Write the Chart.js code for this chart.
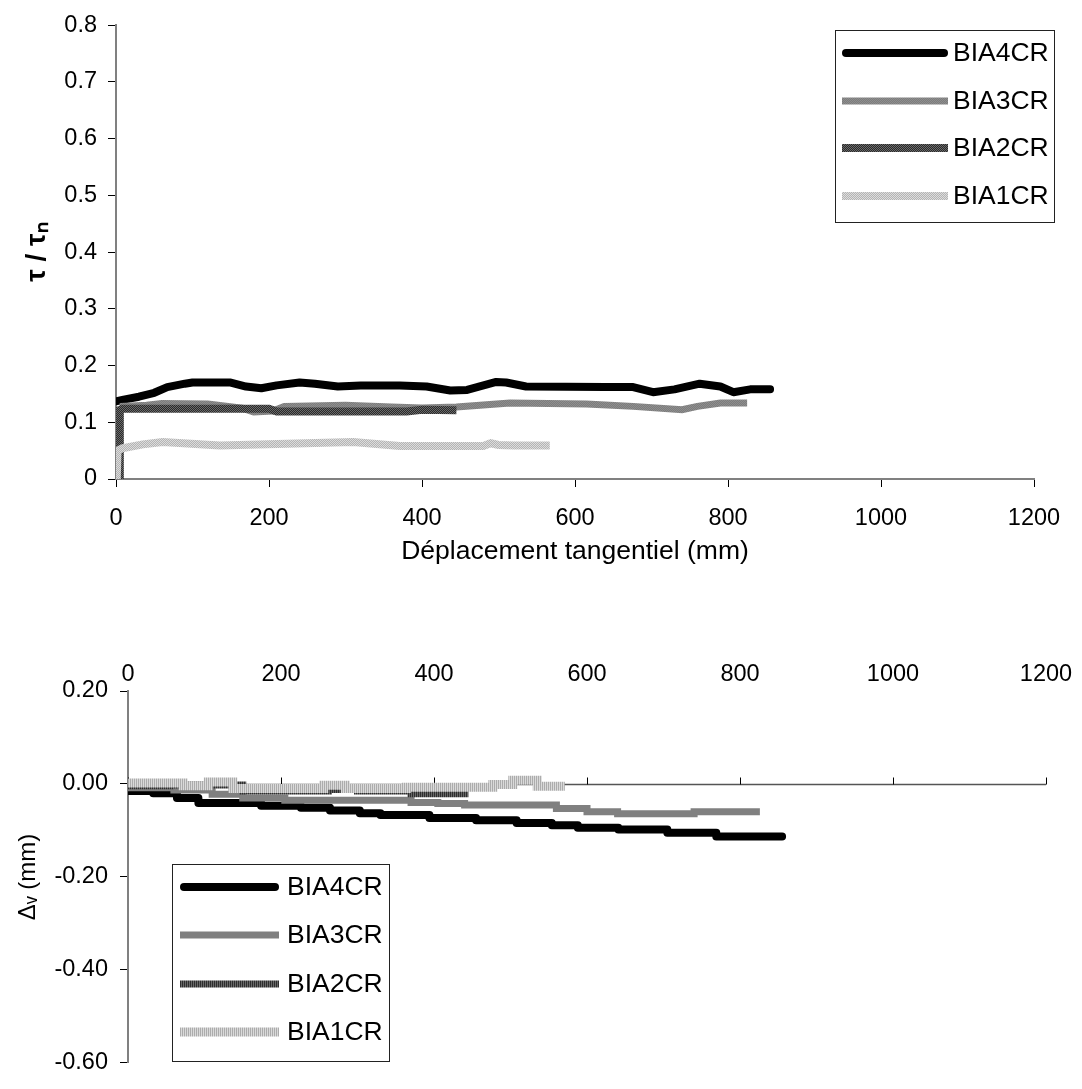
<!DOCTYPE html>
<html>
<head>
<meta charset="utf-8">
<script src="https://cdn.jsdelivr.net/npm/chart.js@4/dist/chart.umd.min.js"></script>
<style>
  html, body { margin: 0; padding: 0; background: #fff; overflow: hidden; }
  #top { position: absolute; left: 0; top: 0; }
  #bot { position: absolute; left: 0; top: 580px; }
</style>
</head>
<body>
<canvas id="top" width="1082" height="580"></canvas>
<canvas id="bot" width="1082" height="509"></canvas>
<script>
// ---------- DATA ----------
const seriesNames = ['BIA4CR', 'BIA3CR', 'BIA2CR', 'BIA1CR'];

// top chart : tau / tau_n vs tangential displacement
const topX4 = [0, 10, 30, 50, 67, 90, 100, 150, 170, 190, 210, 240, 260, 290, 320, 371, 406, 437, 459, 497, 510, 536, 640, 676, 702, 730, 763, 790, 807, 829, 855];
const topY4 = [0.137, 0.14, 0.145, 0.152, 0.162, 0.168, 0.17, 0.17, 0.163, 0.16, 0.165, 0.17, 0.168, 0.163, 0.165, 0.165, 0.163, 0.156, 0.157, 0.171, 0.17, 0.163, 0.162, 0.162, 0.153, 0.158, 0.168, 0.163, 0.153, 0.158, 0.158];
const topX3 = [5, 40, 60, 120, 165, 180, 205, 220, 300, 360, 400, 445, 515, 615, 676, 740, 760, 790, 825];
const topY3 = [0.128, 0.13, 0.133, 0.132, 0.125, 0.118, 0.12, 0.128, 0.13, 0.127, 0.125, 0.127, 0.134, 0.132, 0.128, 0.122, 0.128, 0.134, 0.134];
const topX2 = [5, 5, 8, 200, 210, 380, 400, 445];
const topY2 = [0, 0.122, 0.124, 0.124, 0.119, 0.119, 0.122, 0.121];
const topX1 = [1, 2, 8, 35, 61, 136, 310, 371, 480, 490, 500, 520, 567];
const topY1 = [0, 0.05, 0.054, 0.061, 0.065, 0.059, 0.065, 0.058, 0.058, 0.063, 0.06, 0.059, 0.059];

// bottom chart : vertical displacement (step levels : start x, level)
const botX4 = [0, 33, 64, 92, 174, 226, 264, 303, 330, 394, 455, 508, 554, 588, 641, 705, 769, 824, 855];
const botY4 = [-0.008, -0.015, -0.02, -0.03, -0.041, -0.047, -0.051, -0.057, -0.063, -0.067, -0.073, -0.078, -0.084, -0.089, -0.094, -0.098, -0.105, -0.113, -0.113];
const botX3 = [0, 60, 110, 150, 205, 370, 405, 440, 560, 600, 640, 740, 760, 826];
const botY3 = [-0.005, -0.008, -0.013, -0.022, -0.03, -0.035, -0.04, -0.042, -0.045, -0.053, -0.06, -0.064, -0.06, -0.06];
const botX2 = [0, 55, 150, 262, 300, 370, 390, 445];
const botY2 = [-0.008, -0.004, -0.002, -0.015, -0.012, -0.015, -0.021, -0.021];
const botX1 = [0, 72, 105, 137, 143, 256, 284, 364, 477, 503, 535, 545, 571];
const botY1 = [0.005, 0.002, -0.004, 0.004, -0.01, -0.01, -0.003, -0.01, -0.007, -0.001, 0.008, -0.005, -0.005];

// tick labels
const xTickLabels = ['0', '200', '400', '600', '800', '1000', '1200'];
const topYTickLabels = ['0', '0.1', '0.2', '0.3', '0.4', '0.5', '0.6', '0.7', '0.8'];
const botYTickLabels = ['-0.60', '-0.40', '-0.20', '0.00', '0.20'];

// ---------- HELPERS ----------
const FONT = "'Liberation Sans', Arial, sans-serif";
const TICK = 23.5;
function pts(xs, ys) { return xs.map((x, i) => ({ x: x, y: ys[i] })); }
function checker(c1, c2) {
  const c = document.createElement('canvas'); c.width = 2; c.height = 2;
  const g = c.getContext('2d');
  g.fillStyle = c1; g.fillRect(0, 0, 2, 2);
  g.fillStyle = c2; g.fillRect(0, 0, 1, 1); g.fillRect(1, 1, 1, 1);
  return g.createPattern(c, 'repeat');
}
function vstripes(c1, c2) {
  const c = document.createElement('canvas'); c.width = 2; c.height = 2;
  const g = c.getContext('2d');
  g.fillStyle = c1; g.fillRect(0, 0, 2, 2);
  g.fillStyle = c2; g.fillRect(1, 0, 1, 2);
  return g.createPattern(c, 'repeat');
}

const boxLegend = {
  id: 'boxLegend',
  afterDraw(chart, args, o) {
    const ctx = chart.ctx;
    ctx.save();
    ctx.fillStyle = '#fff';
    ctx.fillRect(o.x, o.y, o.w, o.h);
    ctx.strokeStyle = '#222'; ctx.lineWidth = 1;
    ctx.strokeRect(o.x + 0.5, o.y + 0.5, o.w, o.h);
    chart.data.datasets.forEach((ds, i) => {
      const y = Math.round(o.y + o.first + i * o.gap);
      ctx.beginPath();
      const cap = ds.borderCapStyle || 'butt';
      const inset = cap === 'round' ? ds.borderWidth / 2 : 0;
      ctx.moveTo(o.x + o.lx0 + inset, y); ctx.lineTo(o.x + o.lx1 - inset, y);
      ctx.strokeStyle = ds.borderColor; ctx.lineWidth = ds.borderWidth; ctx.lineCap = cap;
      ctx.stroke();
      ctx.fillStyle = '#000'; ctx.font = '26.5px ' + FONT; ctx.textBaseline = 'middle'; ctx.textAlign = 'left';
      ctx.fillText(ds.label, o.x + o.tx, y + 1);
    });
    ctx.restore();
  }
};

const zeroAxis = {
  id: 'zeroAxis',
  beforeDatasetsDraw(chart, args, o) {
    if (!o || !o.enabled) return;
    const xs = chart.scales.x, ys = chart.scales.y;
    const y0 = Math.round(ys.getPixelForValue(0)) + 0.5;
    const ctx = chart.ctx;
    ctx.save();
    ctx.strokeStyle = '#555'; ctx.lineWidth = 1.5;
    ctx.beginPath(); ctx.moveTo(xs.getPixelForValue(xs.min), y0); ctx.lineTo(xs.getPixelForValue(xs.max), y0); ctx.stroke();
    ctx.strokeStyle = '#000'; ctx.lineWidth = 1;
    xs.ticks.forEach(t => {
      const px = Math.round(xs.getPixelForValue(t.value)) + 0.5;
      ctx.beginPath(); ctx.moveTo(px, y0); ctx.lineTo(px, y0 - 7); ctx.stroke();
    });
    ctx.restore();
  }
};

// ---------- TOP CHART ----------
new Chart(document.getElementById('top'), {
  type: 'line',
  data: {
    datasets: [
      { label: seriesNames[0], data: pts(topX4, topY4), borderColor: '#000', borderWidth: 8, borderCapStyle: 'round', borderJoinStyle: 'round', order: 4 },
      { label: seriesNames[1], data: pts(topX3, topY3), borderColor: checker('#7c7c7c', '#8e8e8e'), borderWidth: 7, order: 3 },
      { label: seriesNames[2], data: pts(topX2, topY2), borderColor: checker('#2a2a2a', '#6a6a6a'), borderWidth: 8, order: 2 },
      { label: seriesNames[3], data: pts(topX1, topY1), borderColor: checker('#b4b4b4', '#dcdcdc'), borderWidth: 8, order: 1 }
    ]
  },
  options: {
    responsive: false, animation: false,
    elements: { point: { radius: 0 }, line: { tension: 0, fill: false } },
    layout: { padding: { top: 23, right: 48, left: 0, bottom: 0 } },
    plugins: {
      legend: { display: false }, tooltip: { enabled: false },
      boxLegend: { x: 835, y: 30, w: 219, h: 192, first: 23, gap: 47.5, lx0: 7, lx1: 113, tx: 118 }
    },
    scales: {
      x: {
        type: 'linear', min: 0, max: 1200,
        afterFit: s => { s.height = 101; },
        ticks: { stepSize: 200, padding: 17, color: '#000', font: { family: FONT, size: TICK }, callback: (v, i) => xTickLabels[i] },
        grid: { drawOnChartArea: false, drawTicks: true, tickLength: 8, color: '#000' },
        border: { color: '#808080', width: 2 },
        title: { display: true, text: 'Déplacement tangentiel (mm)', color: '#000', font: { family: FONT, size: 26.5 }, padding: { top: 0, bottom: 12 } }
      },
      y: {
        min: 0, max: 0.8,
        afterFit: s => { s.width = 116; },
        ticks: { stepSize: 0.1, padding: 11, color: '#000', font: { family: FONT, size: TICK }, callback: (v, i) => topYTickLabels[i] },
        grid: { drawOnChartArea: false, drawTicks: true, tickLength: 8, color: '#000' },
        border: { color: '#808080', width: 2 },
        title: { display: true, text: 'τ / τₙ', color: '#000', font: { family: FONT, size: 28, weight: 'bold' }, padding: { top: 20, bottom: 0 } }
      }
    }
  },
  plugins: [boxLegend]
});

// ---------- BOTTOM CHART ----------
new Chart(document.getElementById('bot'), {
  type: 'line',
  data: {
    datasets: [
      { label: seriesNames[0], data: pts(botX4, botY4), borderColor: '#000', borderWidth: 8, borderCapStyle: 'round', borderJoinStyle: 'round', stepped: 'after', order: 4 },
      { label: seriesNames[1], data: pts(botX3, botY3), borderColor: '#808080', borderWidth: 7, stepped: 'after', order: 3 },
      { label: seriesNames[2], data: pts(botX2, botY2), borderColor: vstripes('#2e2e2e', '#686868'), borderWidth: 7, stepped: 'after', order: 2 },
      { label: seriesNames[3], data: pts(botX1, botY1), borderColor: vstripes('#acacac', '#dadada'), borderWidth: 9, stepped: 'after', order: 1 }
    ]
  },
  options: {
    responsive: false, animation: false,
    elements: { point: { radius: 0 }, line: { tension: 0, fill: false } },
    layout: { padding: { top: 0, right: 36, left: 0, bottom: 12 } },
    plugins: {
      legend: { display: false }, tooltip: { enabled: false },
      zeroAxis: { enabled: true },
      boxLegend: { x: 172, y: 284, w: 217, h: 197, first: 23, gap: 48.3, lx0: 8, lx1: 107, tx: 115 }
    },
    scales: {
      x: {
        type: 'linear', position: 'top', min: 0, max: 1200,
        afterFit: s => { s.height = 111; },
        ticks: { stepSize: 200, padding: 2, color: '#000', font: { family: FONT, size: TICK }, callback: (v, i) => xTickLabels[i] },
        grid: { display: true, drawOnChartArea: false, drawTicks: false },
        border: { display: false }
      },
      y: {
        min: -0.6, max: 0.2,
        afterFit: s => { s.width = 128; },
        ticks: { stepSize: 0.2, padding: 12, color: '#000', font: { family: FONT, size: TICK }, callback: (v, i) => botYTickLabels[i] },
        grid: { drawOnChartArea: false, drawTicks: true, tickLength: 8, color: '#000' },
        border: { color: '#808080', width: 2 },
        title: { display: true, text: 'Δᵥ (mm)', color: '#000', font: { family: FONT, size: 24 }, padding: { top: 14, bottom: 0 } }
      }
    }
  },
  plugins: [boxLegend, zeroAxis]
});
</script>
</body>
</html>
